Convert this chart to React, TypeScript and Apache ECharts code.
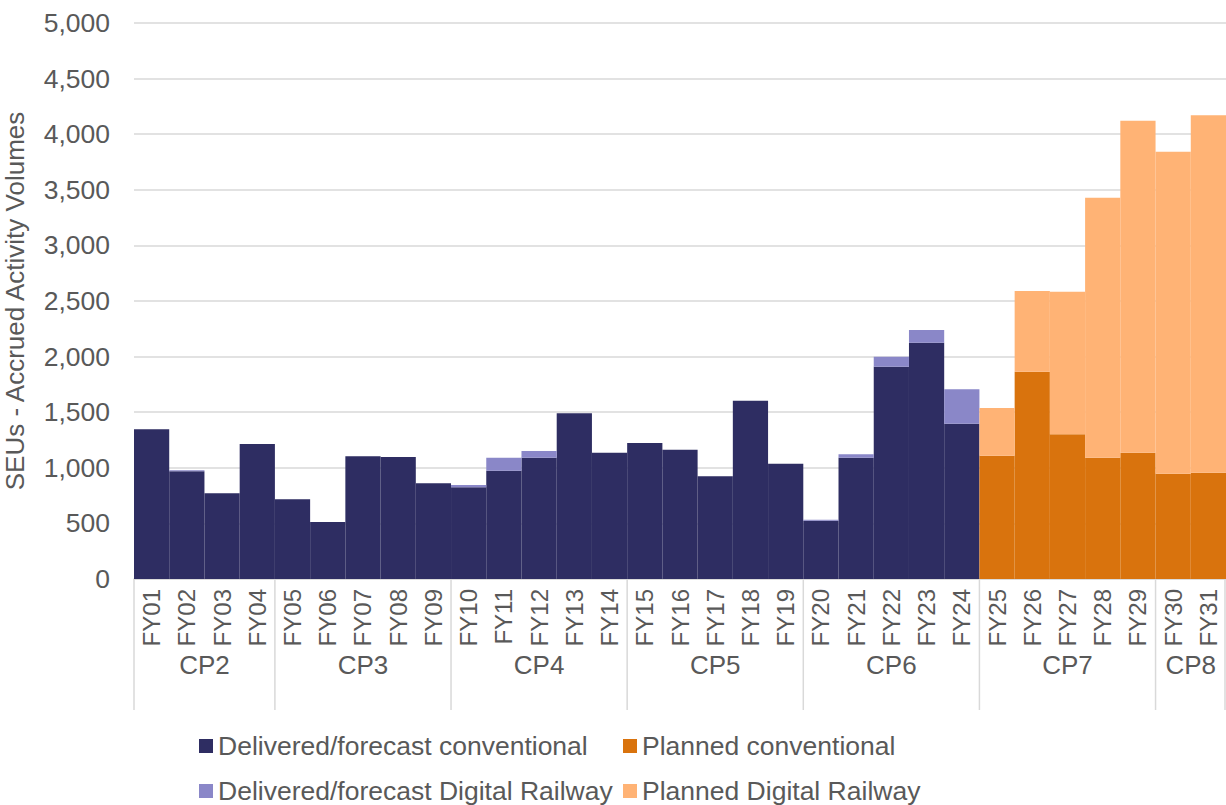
import React, { useEffect, useRef } from "react";
import * as echarts from "echarts";

const categories = [
  "FY01", "FY02", "FY03", "FY04", "FY05", "FY06", "FY07", "FY08", "FY09", "FY10",
  "FY11", "FY12", "FY13", "FY14", "FY15", "FY16", "FY17", "FY18", "FY19", "FY20",
  "FY21", "FY22", "FY23", "FY24", "FY25", "FY26", "FY27", "FY28", "FY29", "FY30", "FY31",
];

// FY01..FY24
const deliveredConventional = [
  1346, 970, 771, 1214, 717, 513, 1103, 1097, 860, 825,
  974, 1091, 1490, 1136, 1223, 1163, 923, 1603, 1037, 524,
  1091, 1909, 2125, 1397,
];
const deliveredDigital = [
  0, 8, 0, 0, 0, 0, 0, 0, 0, 20,
  117, 60, 0, 0, 0, 0, 0, 0, 0, 8,
  30, 90, 114, 309,
];
// FY25..FY31
const plannedConventional = [1109, 1864, 1301, 1091, 1136, 947, 956];
const plannedDigital = [429, 726, 1283, 2338, 2985, 2896, 3214];

const groupNames = ["CP2", "CP3", "CP4", "CP5", "CP6", "CP7", "CP8"];
const groupStart = [0, 4, 9, 14, 19, 24, 29];
const groupEnd = [3, 8, 13, 18, 23, 28, 30];

const yTicks = { min: 0, max: 5000, interval: 500 };

const seriesNames = [
  "Delivered/forecast conventional",
  "Delivered/forecast Digital Railway",
  "Planned conventional",
  "Planned Digital Railway",
];

const TEXT = "#595959";
const GRID = "#d9d9d9";
const FONT = "'Liberation Sans', Arial, sans-serif";

export default function App() {
  const ref = useRef<HTMLDivElement>(null);

  useEffect(() => {
    if (!ref.current) return;
    const chart = echarts.init(ref.current, undefined, { renderer: "svg" });
    const nDel = deliveredConventional.length;
    const nPl = plannedConventional.length;
    const pad = (n: number) => new Array(n).fill(null);
    const dConv = [...deliveredConventional, ...pad(nPl)];
    const dDig = [...deliveredDigital, ...pad(nPl)];
    const pConv = [...pad(nDel), ...plannedConventional];
    const pDig = [...pad(nDel), ...plannedDigital];

    const groupData = groupNames.map((n, i) => ({
      name: n,
      value: [groupStart[i], groupEnd[i], 0],
    }));

    const legendText = { color: TEXT, fontSize: 26.5, lineHeight: 25, fontFamily: FONT };

    const legendCommon = {
      padding: 0,
      orient: "horizontal",
      itemWidth: 14,
      itemHeight: 14,
      icon: "rect",
      textStyle: legendText,
      selectedMode: false,
    };
    const legendCols = [199, 623];
    const legendRows = [732.5, 777.5];
    const legendLayout = [
      [0, 0],
      [0, 1],
      [1, 0],
      [1, 1],
    ];

    chart.setOption({
      animation: false,
      textStyle: { fontFamily: FONT },
      grid: {
        left: 134,
        right: 0,
        top: 23,
        bottom: 226,
        containLabel: false,
        outerBoundsMode: "none",
      },
      legend: seriesNames.map((name, i) => ({
        ...legendCommon,
        left: legendCols[legendLayout[i][0]],
        top: legendRows[legendLayout[i][1]],
        data: [name],
      })),
      xAxis: {
        type: "category",
        data: categories,
        boundaryGap: true,
        axisLine: { show: true, lineStyle: { color: GRID, width: 1.5 } },
        axisTick: { show: false },
        axisLabel: {
          rotate: 90,
          interval: 0,
          margin: 10,
          color: TEXT,
          fontSize: 24,
          fontFamily: FONT,
        },
      },
      yAxis: {
        type: "value",
        min: yTicks.min,
        max: yTicks.max,
        interval: yTicks.interval,
        name: "SEUs - Accrued Activity Volumes",
        nameLocation: "middle",
        nameRotate: 90,
        nameGap: 106,
        nameTextStyle: { color: TEXT, fontSize: 26, fontFamily: FONT },
        axisLine: { show: false },
        axisTick: { show: false },
        axisLabel: {
          color: TEXT,
          fontSize: 26.5,
          margin: 24,
          fontFamily: FONT,
          formatter: (v: number) => v.toLocaleString("en-US"),
        },
        splitLine: { lineStyle: { color: GRID, width: 1.5 } },
      },
      series: [
        {
          name: seriesNames[0],
          type: "bar",
          stack: "total",
          barCategoryGap: "0%",
          data: dConv,
          itemStyle: { color: "#2e2d62" },
        },
        {
          name: seriesNames[1],
          type: "bar",
          stack: "total",
          barCategoryGap: "0%",
          data: dDig,
          itemStyle: { color: "#8a87c8" },
        },
        {
          name: seriesNames[2],
          type: "bar",
          stack: "total",
          barCategoryGap: "0%",
          data: pConv,
          itemStyle: { color: "#d9730d" },
        },
        {
          name: seriesNames[3],
          type: "bar",
          stack: "total",
          barCategoryGap: "0%",
          data: pDig,
          itemStyle: { color: "#ffb375" },
        },
        {
          type: "custom",
          name: "groups",
          clip: false,
          silent: true,
          encode: { x: [0, 1], y: 2 },
          data: groupData,
          renderItem: (params: any, api: any) => {
            const s = api.value(0);
            const e = api.value(1);
            const bw = api.size([1, 0])[0];
            const p0 = api.coord([s, 0]);
            const p1 = api.coord([e, 0]);
            const left = p0[0] - bw / 2;
            const right = p1[0] + bw / 2;
            const y0 = p0[1];
            const children: any[] = [
              {
                type: "line",
                shape: { x1: left, y1: y0, x2: left, y2: y0 + 131 },
                style: { stroke: GRID, lineWidth: 1.5 },
              },
              {
                type: "text",
                style: {
                  text: groupNames[params.dataIndex],
                  x: (left + right) / 2,
                  y: y0 + 86,
                  align: "center",
                  verticalAlign: "middle",
                  fill: TEXT,
                  fontSize: 26,
                  fontFamily: FONT,
                },
              },
            ];
            if (params.dataIndex === groupNames.length - 1) {
              children.push({
                type: "line",
                shape: { x1: right - 1, y1: y0, x2: right - 1, y2: y0 + 131 },
                style: { stroke: GRID, lineWidth: 1.5 },
              });
            }
            return { type: "group", children };
          },
        },
      ],
    });
    return () => chart.dispose();
  }, []);

  return (
    <div
      ref={ref}
      style={{ position: "fixed", left: 0, top: 0, width: 1226, height: 805, background: "#fff" }}
    />
  );
}
